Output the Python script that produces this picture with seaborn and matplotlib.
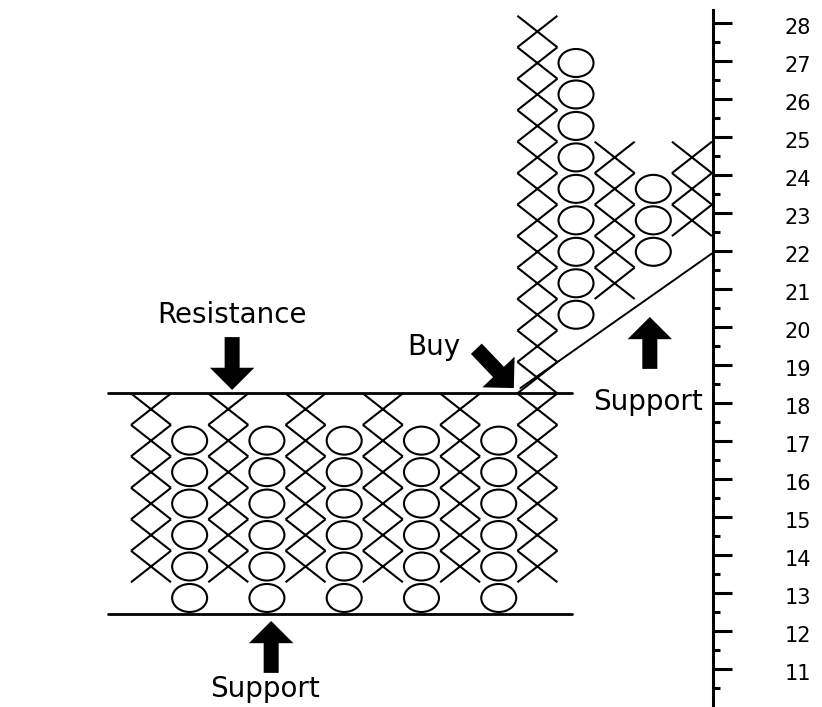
import numpy as np
import pandas as pd
import matplotlib
matplotlib.use('Agg')
import matplotlib.pyplot as plt
from matplotlib.path import Path
from matplotlib.transforms import Affine2D, ScaledTranslation
import seaborn as sns

sns.set_style('white')
plt.rcParams['font.family'] = ['DejaVu Sans']
plt.rcParams['text.color'] = 'black'

# -------------------------------------------
# Colunas do grafico ponto e figura (linha = caixa)
# -------------------------------------------
col_tipo = ['X', 'O', 'X', 'O', 'X', 'O', 'X', 'O', 'X', 'O', 'X', 'O', 'X', 'O', 'X']
col_base = [1, 0, 1, 0, 1, 0, 1, 0, 1, 0, 1, 9, 10, 11, 12]
col_topo = [6, 5, 6, 5, 6, 5, 6, 5, 6, 5, 18, 17, 14, 13, 14]

# escala de precos (eixo da direita)
precos = list(range(11, 29))

# resistencia / suporte horizontais e linha de tendencia (coluna, caixa)
resistencia = 6.5
suporte = -0.5
linha_x = [-1.11, 10.9]
tendencia_x = [9.56, 14.52]
tendencia_y = [6.67, 10.95]

# anotacoes: texto, posicao do texto, inicio e ponta da seta
anot_texto = ['Resistance', 'Buy', 'Support', 'Support']
anot_pos = [(2.10, 8.74), (7.32, 7.72), (12.86, 5.97), (2.95, -3.15)]
seta_ini = [(2.10, 8.29), (8.42, 7.92), (12.91, 7.28), (3.11, -2.38)]
seta_fim = [(2.10, 6.61), (9.39, 6.67), (12.91, 8.93), (3.11, -0.73)]

# monta a tabela de caixas
caixas = pd.DataFrame(
    [(c, r, t) for c, (t, b, tp) in enumerate(zip(col_tipo, col_base, col_topo))
     for r in range(b, tp + 1)],
    columns=['coluna', 'linha', 'tipo'])

# marcadores: X ocupa a caixa inteira, O e uma elipse
marca_x = Path([(-20, -15.73), (20, 15.73), (-20, 15.73), (20, -15.73)],
               [Path.MOVETO, Path.LINETO, Path.MOVETO, Path.LINETO])
marca_o = Affine2D().scale(1.0, 0.8).transform_path(Path.unit_circle())

fig = plt.figure(figsize=(8.22, 7.07), dpi=100)
ax = fig.add_axes([0, 0, 713 / 822, 697 / 707])
ax.set_xlim(-3.908, 14.545)
ax.set_ylim(-3.464, 18.684)

sns.scatterplot(data=caixas[caixas['tipo'] == 'X'], x='coluna', y='linha',
                marker=marca_x, s=829, color='black', facecolor='none',
                edgecolor='black', linewidth=1.5, ax=ax, legend=False)
sns.scatterplot(data=caixas[caixas['tipo'] == 'O'], x='coluna', y='linha',
                marker=marca_o, s=635, color='black', facecolor='none',
                edgecolor='black', linewidth=1.5, ax=ax, legend=False)

# linhas de resistencia e suporte
ax.plot(linha_x, [resistencia, resistencia], color='black', lw=2)
ax.plot(linha_x, [suporte, suporte], color='black', lw=2)
sns.lineplot(x=tendencia_x, y=tendencia_y, color='black', lw=1.4, ax=ax)

estilo = 'simple,head_length=0.8,head_width=1.6,tail_width=0.54'
for txt, pos, ini, fim in zip(anot_texto, anot_pos, seta_ini, seta_fim):
    ax.text(pos[0], pos[1], txt, ha='center', va='baseline', fontsize=20,
            color='black')
    ax.annotate('', xy=fim, xytext=ini,
                arrowprops=dict(arrowstyle=estilo, mutation_scale=20,
                                color='black', lw=0, shrinkA=0, shrinkB=0))

ax.set_xticks([])
ax.set_yticks([])
ax.set_xlabel('')
ax.set_ylabel('')
for s in ax.spines.values():
    s.set_visible(False)

# eixo de precos
ax2 = ax.twinx()
ax2.set_ylim(10.0, 28.342)
for lado in ['left', 'top', 'bottom']:
    ax2.spines[lado].set_visible(False)
ax2.spines['right'].set_linewidth(2.2)
ax2.spines['right'].set_color('black')
ax2.set_yticks(precos)
ax2.set_yticks([p - 0.5 for p in precos], minor=True)
ax2.tick_params(axis='y', which='major', length=13.7, width=2.2, direction='out',
                pad=38, labelsize=15, colors='black')
ax2.tick_params(axis='y', which='minor', length=5, width=2.2, direction='out',
                colors='black')
desloc = ScaledTranslation(0, -3 / 100, fig.dpi_scale_trans)
for lab in ax2.get_yticklabels():
    lab.set_transform(lab.get_transform() + desloc)

fig.savefig('out.png', dpi=100, facecolor='white')
